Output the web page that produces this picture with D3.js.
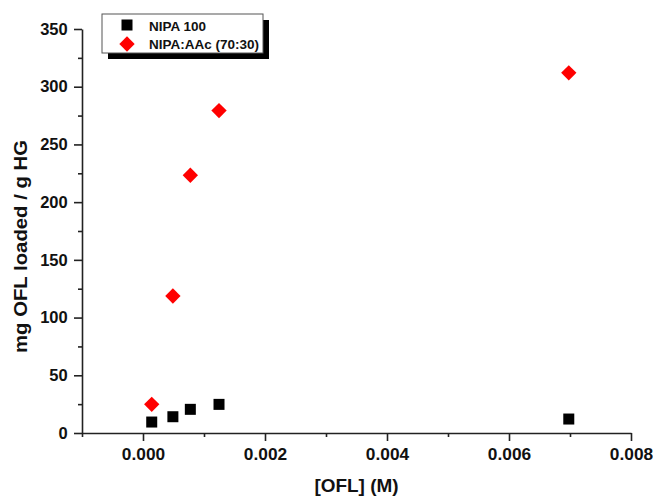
<!DOCTYPE html>
<html>
<head>
<meta charset="utf-8">
<script src="https://cdn.jsdelivr.net/npm/d3@7/dist/d3.min.js"></script>
<style>
  html, body { margin: 0; padding: 0; background: #fff; }
  svg text { font-family: "Liberation Sans", Arial, sans-serif; font-weight: 700; }
</style>
</head>
<body>
<svg id="chart" width="653" height="499"></svg>
<script>
// Data
const concOFL = [0.000143, 0.00049, 0.000776, 0.001246, 0.00698];
const nipa100 = [9.5, 14.1, 20.5, 24.8, 12.1];
const nipaAAc = [24.8, 118.7, 223.3, 279.3, 312];
const seriesNames = ["NIPA 100", "NIPA:AAc (70:30)"];
const xTicks = [0, 0.002, 0.004, 0.006, 0.008];
const yTicks = [0, 50, 100, 150, 200, 250, 300, 350];

const svg = d3.select("#chart");
const mLeft = 82, mRight = 631, mTop = 29, mBottom = 433;

const x = d3.scaleLinear().domain([-0.001, 0.008]).range([mLeft, mRight]);
const y = d3.scaleLinear().domain([0, 350]).range([mBottom, mTop]);

const axisColor = "#222";
const FONT = "Liberation Sans, Arial, sans-serif";

// X axis
const xMinor = d3.range(-0.001, 0.0081, 0.001).filter(v => !xTicks.some(t => Math.abs(t - v) < 1e-9));
const gx = svg.append("g").attr("transform", `translate(0,${mBottom})`);
gx.call(d3.axisBottom(x).tickValues(xTicks).tickFormat(d3.format(".3f")).tickSize(8).tickSizeOuter(0));
gx.append("g").call(d3.axisBottom(x).tickValues(xMinor).tickFormat("").tickSize(4).tickSizeOuter(0))
  .select(".domain").remove();

// Y axis
const yMinor = d3.range(25, 350, 50);
const gy = svg.append("g").attr("transform", `translate(${mLeft},0)`);
gy.call(d3.axisLeft(y).tickValues(yTicks).tickSize(8).tickSizeOuter(0));
gy.append("g").call(d3.axisLeft(y).tickValues(yMinor).tickFormat("").tickSize(4).tickSizeOuter(0))
  .select(".domain").remove();

svg.selectAll("g").attr("font-family", FONT).attr("font-weight", "bold");
svg.selectAll(".domain").attr("stroke", axisColor).attr("stroke-width", 1.6);
svg.selectAll(".tick line").attr("stroke", axisColor).attr("stroke-width", 1.6);
gx.selectAll(".tick text").attr("font-size", 16.5).attr("fill", "#111").attr("dy", "1.0em")
  .attr("transform", "scale(1.05,1)").attr("x", function(d) { return 0; });
gy.selectAll(".tick text").attr("font-size", 16.5).attr("fill", "#111").attr("dx", "-0.2em");

// Axis titles
svg.append("text").attr("x", (mLeft + mRight) / 2).attr("y", 492).attr("text-anchor", "middle")
  .attr("font-size", 18).attr("fill", "#111")
  .attr("textLength", 84).attr("lengthAdjust", "spacingAndGlyphs").text("[OFL] (M)");
svg.append("text").attr("transform", `translate(27,246.5) rotate(-90)`)
  .attr("text-anchor", "middle").attr("font-size", 18.5).attr("fill", "#111")
  .attr("textLength", 213).attr("lengthAdjust", "spacingAndGlyphs").text("mg OFL loaded / g HG");

// Points
const sqSize = 11;
svg.append("g").selectAll("rect").data(concOFL.map((c, i) => [c, nipa100[i]])).join("rect")
  .attr("x", d => x(d[0]) - sqSize / 2).attr("y", d => y(d[1]) - sqSize / 2)
  .attr("width", sqSize).attr("height", sqSize).attr("fill", "#000");

const diamond = d3.symbol().type(d3.symbolDiamond2).size(150);
svg.append("g").selectAll("path").data(concOFL.map((c, i) => [c, nipaAAc[i]])).join("path")
  .attr("transform", d => `translate(${x(d[0])},${y(d[1])})`)
  .attr("d", diamond).attr("fill", "#ff0000");

// Legend
const lg = svg.append("g");
lg.append("rect").attr("x", 108).attr("y", 20).attr("width", 161).attr("height", 39).attr("fill", "#000");
lg.append("rect").attr("x", 102).attr("y", 14).attr("width", 161).attr("height", 39)
  .attr("fill", "#fff").attr("stroke", "#555").attr("stroke-width", 1);
lg.append("rect").attr("x", 127 - 5.5).attr("y", 25 - 5.5).attr("width", 11).attr("height", 11).attr("fill", "#000");
lg.append("path").attr("transform", "translate(127,44)").attr("d", diamond).attr("fill", "#ff0000");
lg.append("text").attr("x", 149).attr("y", 30.5).attr("font-size", 13.5).attr("fill", "#111").text(seriesNames[0]);
lg.append("text").attr("x", 149).attr("y", 49).attr("font-size", 13.5).attr("fill", "#111").text(seriesNames[1]);
</script>
</body>
</html>
